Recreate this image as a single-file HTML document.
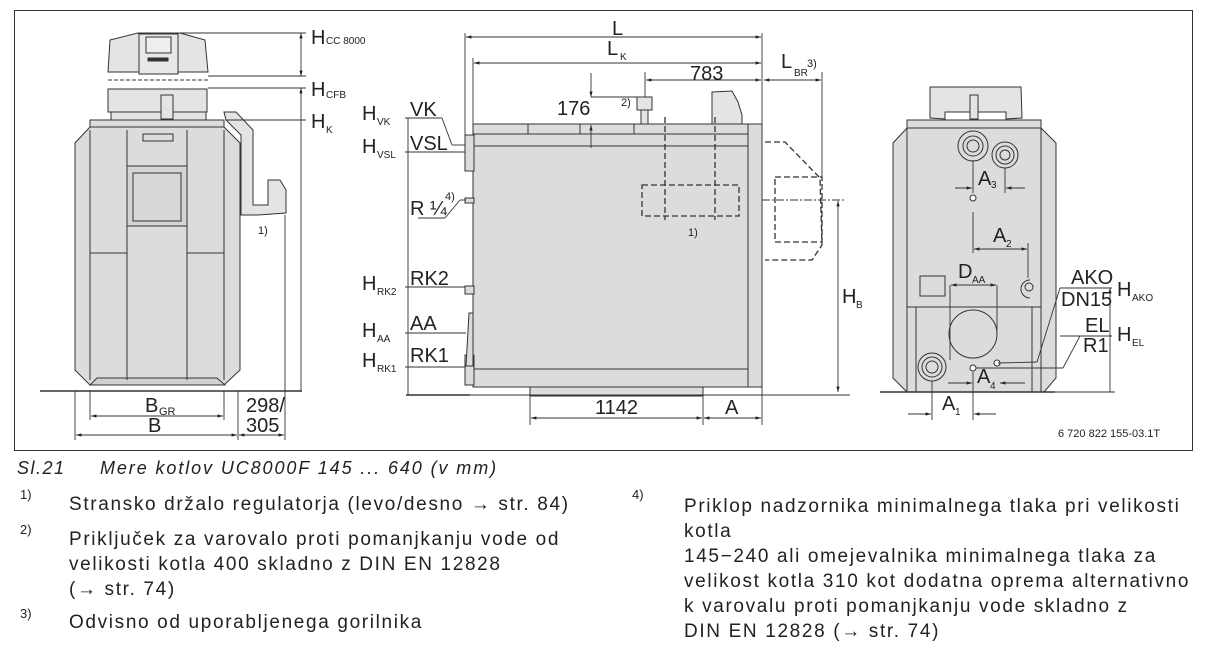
<!DOCTYPE html>
<html><head><meta charset="utf-8"><style>
body{margin:0;background:#fff;width:1208px;height:651px;overflow:hidden;font-family:"Liberation Sans",sans-serif;position:relative}
.t{position:absolute;font-size:19px;color:#222;line-height:25px;white-space:nowrap;letter-spacing:1.65px}
.n{position:absolute;font-size:13px;color:#222}
</style></head><body>
<svg width="1208" height="455" style="position:absolute;left:0;top:0" font-family="Liberation Sans, sans-serif">
<defs><marker id="a" viewBox="0 0 10 10" refX="10" refY="5" markerWidth="8" markerHeight="6" orient="auto-start-reverse"><path d="M0,2L10,5L0,8z" fill="#222"/></marker></defs>
<rect x="14.5" y="10.5" width="1178" height="440" fill="none" stroke="#333"/>
<g stroke="#333" stroke-width="1" fill="#dcdcdc">
<path d="M110,40 L138,33 L180,33 L205,40 L208,72 L108,72 Z" fill="#e4e4e4"/>
<rect x="139" y="34" width="39" height="40" fill="#e8e8e8"/>
<rect x="146" y="37" width="25" height="16" fill="#eee"/>
<rect x="148" y="58" width="20" height="3" fill="#333"/>
<rect x="108" y="89" width="99" height="23" fill="#e4e4e4"/>
<rect x="111" y="112" width="95" height="9" fill="#e4e4e4"/>
<rect x="161" y="95" width="12" height="24" fill="#e4e4e4"/>
<rect x="90" y="120" width="134" height="7"/>
<path d="M90,127 L224,127 L240,143 L240,370 L224,385 L90,385 L75,370 L75,143 Z"/>
<path d="M97,378 L217,378 L225,385 L90,385 Z" fill="#d0d0d0"/>
<line x1="127" y1="130" x2="127" y2="380"/><line x1="187" y1="130" x2="187" y2="380"/>
<line x1="90" y1="130" x2="90" y2="380"/><line x1="224" y1="130" x2="224" y2="380"/>
<line x1="90" y1="253" x2="127" y2="253"/><line x1="187" y1="253" x2="224" y2="253"/>
<rect x="143" y="134" width="30" height="7"/>
<rect x="127" y="166" width="60" height="60" fill="#d4d4d4"/>
<rect x="133" y="173" width="48" height="48" fill="#d8d8d8"/>
<path d="M224,112 L236,112 L253,130 L253,205 L268,205 L268,180 L280,180 L286,190 L286,213 L258,215 L241,215 L241,135 L226,120 Z" fill="#e4e4e4"/>
<rect x="473" y="124" width="289" height="263"/>
<line x1="473" y1="134" x2="748" y2="134"/><line x1="473" y1="146" x2="748" y2="146"/>
<line x1="748" y1="124" x2="748" y2="387"/><line x1="473" y1="369" x2="748" y2="369"/>
<line x1="528" y1="124" x2="528" y2="134"/><line x1="580" y1="124" x2="580" y2="134"/><line x1="634" y1="124" x2="634" y2="134"/>
<rect x="530" y="387" width="173" height="9"/>
<rect x="637" y="97" width="15" height="13" fill="#e4e4e4"/><rect x="641" y="110" width="7" height="14" fill="#e4e4e4"/>
<path d="M712,92 L732,91 L738,102 L742,115 L742,124 L712,124 Z" fill="#e4e4e4"/>
<rect x="465" y="135" width="9" height="36"/><rect x="465" y="355" width="9" height="30"/>
<rect x="465" y="286" width="9" height="8"/><rect x="465" y="198" width="9" height="5"/>
<path d="M469,313 L473,313 L473,366 L466,366 Z"/>
<path d="M930,87 L1021,87 L1022,118 L1006,119 L1006,112 L945,112 L945,119 L930,118 Z" fill="#e4e4e4"/>
<rect x="970" y="95" width="8" height="24" fill="#e4e4e4"/>
<rect x="907" y="120" width="134" height="8"/>
<path d="M907,128 L1041,128 L1056,143 L1056,378 L1044,392 L907,392 L893,378 L893,143 Z"/>
<line x1="907" y1="128" x2="907" y2="392"/><line x1="1041" y1="128" x2="1041" y2="392"/>
<line x1="907" y1="307" x2="1041" y2="307"/>
<line x1="916" y1="307" x2="916" y2="392"/><line x1="1032" y1="307" x2="1032" y2="392"/>
<rect x="920" y="276" width="25" height="20"/>
<circle cx="973" cy="334" r="24"/>
<circle cx="973" cy="146" r="15"/><circle cx="973" cy="146" r="10"/><circle cx="973" cy="146" r="6"/>
<circle cx="1005" cy="155" r="13"/><circle cx="1005" cy="155" r="9"/><circle cx="1005" cy="155" r="5"/>
<circle cx="932" cy="367" r="14"/><circle cx="932" cy="367" r="10"/><circle cx="932" cy="367" r="6"/>
<path d="M1030,280 A9,9 0 1,0 1030,298" fill="#dcdcdc"/><circle cx="1029" cy="287" r="4"/>
<circle cx="973" cy="198" r="3" fill="#fff"/><circle cx="997" cy="363" r="3" fill="#fff"/><circle cx="973" cy="368" r="3" fill="#fff"/>
</g>
<g stroke="#333" fill="none" stroke-width="1.3" stroke-dasharray="6,3">
<path d="M765,142 L785,142 L820,178 L822,245 L812,260 L765,260"/>
<rect x="775" y="177" width="47" height="65"/>
<rect x="642" y="185" width="97" height="31"/>
<line x1="665" y1="117" x2="665" y2="220"/><line x1="715" y1="117" x2="715" y2="220"/>
</g>
<g stroke="#333" stroke-width="0.9" fill="none">
<line x1="108" y1="80" x2="208" y2="80" stroke-dasharray="4,2"/>
<line x1="180" y1="33" x2="306" y2="33"/><line x1="208" y1="76" x2="306" y2="76"/>
<line x1="208" y1="88" x2="306" y2="88"/><line x1="226" y1="120" x2="306" y2="120"/>
<line x1="301" y1="33" x2="301" y2="76" marker-start="url(#a)" marker-end="url(#a)"/>
<line x1="301" y1="88" x2="301" y2="391" marker-start="url(#a)"/>
<line x1="40" y1="391" x2="302" y2="391" stroke-width="1.6"/>
<line x1="75" y1="391" x2="75" y2="440"/><line x1="90" y1="391" x2="90" y2="420"/><line x1="224" y1="391" x2="224" y2="420"/>
<line x1="238" y1="391" x2="238" y2="440"/><line x1="285" y1="215" x2="285" y2="440"/>
<line x1="91" y1="416" x2="223" y2="416" marker-start="url(#a)" marker-end="url(#a)"/>
<line x1="76" y1="435" x2="237" y2="435" marker-start="url(#a)" marker-end="url(#a)"/>
<line x1="239" y1="435" x2="284" y2="435" marker-start="url(#a)" marker-end="url(#a)"/>
<line x1="465" y1="33" x2="465" y2="135"/><line x1="473" y1="58" x2="473" y2="124"/><line x1="762" y1="33" x2="762" y2="124"/>
<line x1="466" y1="37" x2="761" y2="37" marker-start="url(#a)" marker-end="url(#a)"/>
<line x1="474" y1="63" x2="761" y2="63" marker-start="url(#a)" marker-end="url(#a)"/>
<line x1="645" y1="72" x2="645" y2="97"/>
<line x1="646" y1="80" x2="761" y2="80" marker-start="url(#a)" marker-end="url(#a)"/>
<line x1="822" y1="72" x2="822" y2="178"/>
<line x1="764" y1="80" x2="821" y2="80" marker-start="url(#a)" marker-end="url(#a)"/>
<line x1="591" y1="73" x2="591" y2="97" marker-end="url(#a)"/><line x1="591" y1="97" x2="640" y2="97"/>
<line x1="591" y1="148" x2="591" y2="125" marker-end="url(#a)"/>
<line x1="406" y1="395" x2="470" y2="395" stroke-width="1.6"/><line x1="470" y1="395" x2="850" y2="395"/>
<line x1="408" y1="118" x2="408" y2="395"/>
<line x1="405" y1="118" x2="442" y2="118"/><line x1="442" y1="118" x2="452" y2="145"/><line x1="452" y1="145" x2="465" y2="145"/>
<line x1="405" y1="152" x2="465" y2="152"/>
<line x1="418" y1="218" x2="445" y2="218"/><line x1="445" y1="218" x2="460" y2="200"/><line x1="460" y1="200" x2="466" y2="200"/>
<line x1="405" y1="287" x2="465" y2="287"/><line x1="405" y1="333" x2="466" y2="333"/><line x1="405" y1="367" x2="465" y2="367"/>
<line x1="762" y1="200" x2="845" y2="200" stroke-dasharray="8,2,2,2"/>
<line x1="838" y1="201" x2="838" y2="392" marker-start="url(#a)" marker-end="url(#a)"/>
<line x1="530" y1="396" x2="530" y2="425"/><line x1="703" y1="396" x2="703" y2="425"/><line x1="762" y1="387" x2="762" y2="425"/>
<line x1="531" y1="418" x2="702" y2="418" marker-start="url(#a)" marker-end="url(#a)"/>
<line x1="704" y1="418" x2="761" y2="418" marker-start="url(#a)" marker-end="url(#a)"/>
<line x1="880" y1="392" x2="1055" y2="392" stroke-width="1.6"/><line x1="1055" y1="392" x2="1115" y2="392"/>
<line x1="1110" y1="288" x2="1110" y2="392" marker-start="url(#a)"/>
<line x1="1060" y1="288" x2="1112" y2="288"/><line x1="1060" y1="336" x2="1112" y2="336"/>
<line x1="1060" y1="288" x2="1037" y2="362"/><line x1="1037" y1="362" x2="998" y2="363"/>
<line x1="1080" y1="336" x2="1063" y2="368"/><line x1="1063" y1="368" x2="976" y2="368"/>
<line x1="955" y1="188" x2="972" y2="188" marker-end="url(#a)"/><line x1="1025" y1="188" x2="1006" y2="188" marker-end="url(#a)"/>
<line x1="973" y1="160" x2="973" y2="193"/><line x1="1005" y1="168" x2="1005" y2="193"/>
<line x1="973" y1="212" x2="973" y2="253"/><line x1="974" y1="249" x2="1027" y2="249" marker-start="url(#a)" marker-end="url(#a)"/>
<line x1="1028" y1="243" x2="1028" y2="278"/>
<line x1="950" y1="285" x2="950" y2="360"/><line x1="997" y1="285" x2="997" y2="330"/>
<line x1="951" y1="285" x2="996" y2="285" marker-start="url(#a)" marker-end="url(#a)"/>
<line x1="948" y1="383" x2="972" y2="383" marker-end="url(#a)"/><line x1="1025" y1="383" x2="1000" y2="383" marker-end="url(#a)"/>
<line x1="932" y1="381" x2="932" y2="420"/><line x1="973" y1="372" x2="973" y2="420"/>
<line x1="908" y1="414" x2="931" y2="414" marker-end="url(#a)"/><line x1="996" y1="414" x2="974" y2="414" marker-end="url(#a)"/>
</g>
<g fill="#222" font-size="20">
<text x="311" y="44">H</text><text x="326" y="44" font-size="10">CC 8000</text>
<text x="311" y="96">H</text><text x="326" y="98" font-size="10">CFB</text>
<text x="311" y="128">H</text><text x="326" y="133" font-size="10">K</text>
<text x="145" y="412">B</text><text x="159" y="415" font-size="11">GR</text>
<text x="148" y="432">B</text>
<text x="246" y="412">298/</text><text x="246" y="432">305</text>
<text x="258" y="234" font-size="11">1)</text>
<text x="612" y="35">L</text>
<text x="607" y="55">L</text><text x="620" y="60" font-size="10">K</text>
<text x="690" y="80">783</text>
<text x="781" y="68">L</text><text x="794" y="76" font-size="10">BR</text><text x="807" y="67" font-size="11">3)</text>
<text x="557" y="115">176</text><text x="621" y="106" font-size="11">2)</text>
<text x="688" y="236" font-size="11">1)</text>
<text x="410" y="116">VK</text><text x="410" y="150">VSL</text>
<text x="410" y="215">R ¼</text><text x="445" y="200" font-size="11">4)</text>
<text x="410" y="285">RK2</text><text x="410" y="330">AA</text><text x="410" y="362">RK1</text>
<text x="362" y="120">H</text><text x="377" y="125" font-size="10">VK</text>
<text x="362" y="153">H</text><text x="377" y="158" font-size="10">VSL</text>
<text x="362" y="290">H</text><text x="377" y="295" font-size="10">RK2</text>
<text x="362" y="337">H</text><text x="377" y="342" font-size="10">AA</text>
<text x="362" y="367">H</text><text x="377" y="372" font-size="10">RK1</text>
<text x="842" y="303">H</text><text x="856" y="308" font-size="10">B</text>
<text x="595" y="414">1142</text><text x="725" y="414">A</text>
<text x="978" y="185">A</text><text x="991" y="188" font-size="10">3</text>
<text x="993" y="242">A</text><text x="1006" y="247" font-size="10">2</text>
<text x="958" y="278">D</text><text x="972" y="283" font-size="10">AA</text>
<text x="977" y="383">A</text><text x="990" y="389" font-size="10">4</text>
<text x="942" y="410">A</text><text x="955" y="415" font-size="10">1</text>
<text x="1071" y="284">AKO</text><text x="1061" y="306">DN15</text>
<text x="1085" y="332">EL</text><text x="1083" y="352">R1</text>
<text x="1117" y="296">H</text><text x="1132" y="301" font-size="10">AKO</text>
<text x="1117" y="341">H</text><text x="1132" y="346" font-size="10">EL</text>
<text x="1058" y="437" font-size="11">6 720 822 155-03.1T</text>
</g>
</svg>
<div class="t" style="left:17px;top:456px;font-style:italic;font-size:18px;letter-spacing:1.5px">Sl.21</div>
<div class="t" style="left:100px;top:456px;font-style:italic;font-size:18px;letter-spacing:1.9px">Mere kotlov UC8000F 145 ... 640 (v mm)</div>
<div class="n" style="left:20px;top:487px">1)</div>
<div class="t" style="left:69px;top:492px">Stransko držalo regulatorja (levo/desno → str. 84)</div>
<div class="n" style="left:20px;top:522px">2)</div>
<div class="t" style="left:69px;top:527px">Priključek za varovalo proti pomanjkanju vode od<br>velikosti kotla 400 skladno z DIN EN 12828<br>(→ str. 74)</div>
<div class="n" style="left:20px;top:606px">3)</div>
<div class="t" style="left:69px;top:610px">Odvisno od uporabljenega gorilnika</div>
<div class="n" style="left:632px;top:487px">4)</div>
<div class="t" style="left:684px;top:494px">Priklop nadzornika minimalnega tlaka pri velikosti<br>kotla<br>145−240 ali omejevalnika minimalnega tlaka za<br>velikost kotla 310 kot dodatna oprema alternativno<br>k varovalu proti pomanjkanju vode skladno z<br>DIN EN 12828 (→ str. 74)</div>
</body></html>
